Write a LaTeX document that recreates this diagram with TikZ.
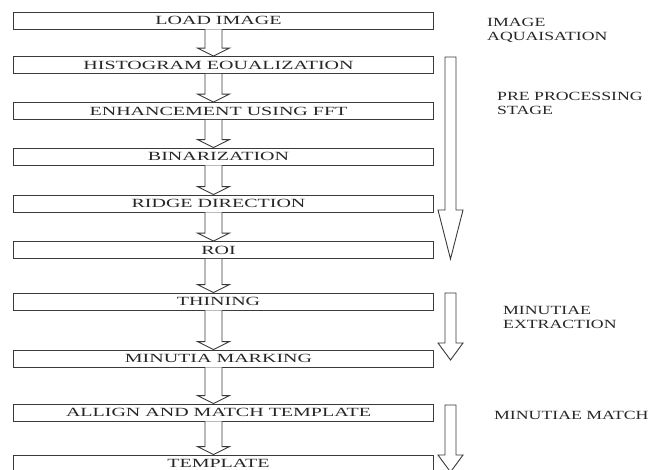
\documentclass[tikz,border=0pt]{standalone}
\usepackage{fontspec}
\setmainfont[FakeStretch=1.6]{Liberation Serif}
\newfontfamily\stagefont[FakeStretch=1.42]{Liberation Serif}
\usepackage{tikz}
\usetikzlibrary{calc}
\definecolor{LineGrey}{HTML}{3A3A3A}

\begin{document}
\begin{tikzpicture}[x=1pt,y=-1pt,
  every node/.style={font=\fontsize{12.5}{14}\selectfont, text=black!85},
  stepbox/.style={draw=LineGrey, line width=0.9pt, minimum width=420pt, minimum height=17pt, inner sep=0pt,
    execute at end node=\hspace*{10pt}},
  hollow/.style={draw=LineGrey, line width=0.9pt, fill=white, line join=miter},
  stagelabel/.style={anchor=west, align=left, inner sep=0pt, font=\stagefont\fontsize{12.5}{14}\selectfont}]
  \useasboundingbox (0,0) rectangle (658,469);
  % process boxes
  \node[stepbox] (load)  at (223.5,20.5)  {LOAD IMAGE};
  \node[stepbox] (hist)  at (223.5,65)    {HISTOGRAM EOUALIZATION};
  \node[stepbox] (enh)   at (223.5,111)   {ENHANCEMENT USING FFT};
  \node[stepbox] (bin)   at (223.5,156.5) {BINARIZATION};
  \node[stepbox] (ridge) at (223.5,203.5) {RIDGE DIRECTION};
  \node[stepbox] (roi)   at (223.5,250)   {ROI};
  \node[stepbox] (thin)  at (223.5,301.5) {THINING};
  \node[stepbox] (mark)  at (223.5,358.5) {MINUTIA MARKING};
  \node[stepbox] (align) at (223.5,412.5) {ALLIGN AND MATCH TEMPLATE};
  \node[stepbox] (tmpl)  at (223.5,463.5) {TEMPLATE};
  % hollow arrows between boxes
  \foreach \a/\b in {load/hist,hist/enh,enh/bin,bin/ridge,ridge/roi,roi/thin,thin/mark,mark/align,align/tmpl}{
    \draw[hollow] let \p1=($(\a.south)+(-10,0)$), \p2=($(\b.north)+(-10,0)$) in
      (\x1-8.5pt,\y1) -- (\x1-8.5pt,\y2+8pt) -- (\x1-16pt,\y2+8pt) -- (\x2,\y2)
      -- (\x1+16pt,\y2+8pt) -- (\x1+8.5pt,\y2+8pt) -- (\x1+8.5pt,\y1);
  }
  % stage arrows
  \foreach \t/\h/\e in {57/210/259,293/343/360,405/455/472}{
    \draw[hollow] (445,\t) -- (456,\t) -- (456,\h) -- (463,\h) -- (450.5,\e) -- (438,\h) -- (445,\h) -- cycle;
  }
  % stage labels
  \node[stagelabel] (acq)  at (487,30)    {IMAGE\\AQUAISATION};
  \node[stagelabel] (pre)  at (497,103.5) {PRE PROCESSING\\STAGE};
  \node[stagelabel] (ext)  at (503,317)   {MINUTIAE\\EXTRACTION};
  \node[stagelabel] (mtch) at (494,415)   {MINUTIAE MATCH};
\end{tikzpicture}
\end{document}
